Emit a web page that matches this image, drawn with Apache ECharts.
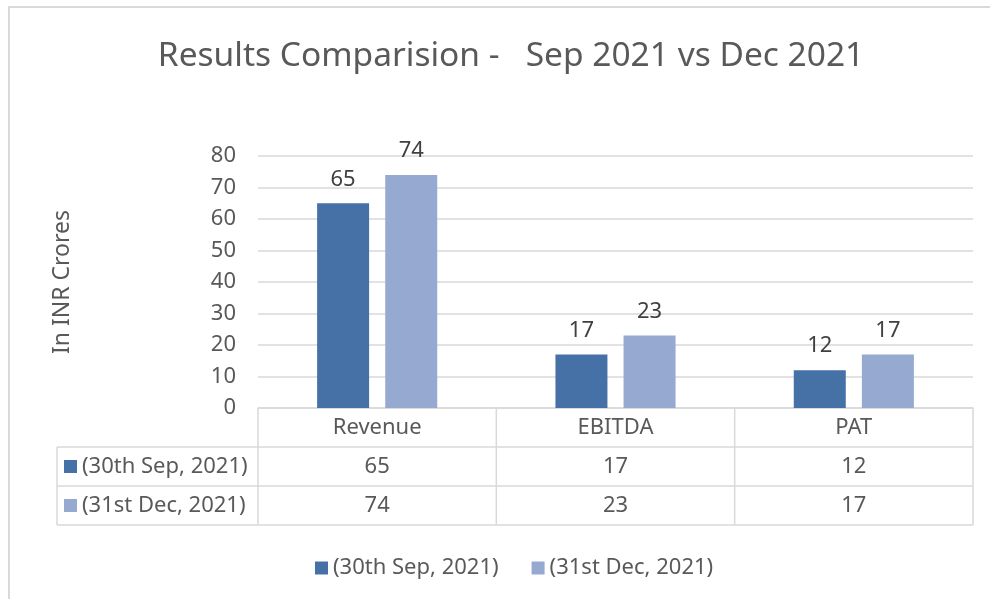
<!DOCTYPE html>
<html><head><meta charset="utf-8">
<script src="https://cdn.jsdelivr.net/npm/echarts@6/dist/echarts.min.js"></script>
<style>html,body{margin:0;padding:0;background:#fff}#c{width:990px;height:599px}</style>
</head><body><div id="c"></div>
<script>
const categories = ['Revenue', 'EBITDA', 'PAT'];
const seriesNames = ['(30th Sep, 2021)', '(31st Dec, 2021)'];
const sep2021 = [65, 17, 12];
const dec2021 = [74, 23, 17];
const yTicks = [0, 10, 20, 30, 40, 50, 60, 70, 80];

const FONT = 'Noto Sans';
const TXT = '#595959';
const LINE = '#D9D9D9';
const C1 = '#4571A7';
const C2 = '#95A9D1';

const G = {left: 258, right: 973, top: 156, bottom: 408};
const ROW = 39;
const TBL_LEFT = 57;
const FS = 22;

const chart = echarts.init(document.getElementById('c'), null, {renderer: 'canvas'});

function labelFor(value, idx) {
  return '{h|' + value + '}\n{v|' + sep2021[idx] + '}\n{v|' + dec2021[idx] + '}';
}

const graphics = [];
graphics.push({type: 'line', shape: {x1: 8, y1: 7, x2: 990, y2: 7}, style: {stroke: LINE, lineWidth: 2}, silent: true});
graphics.push({type: 'line', shape: {x1: 9, y1: 7, x2: 9, y2: 599}, style: {stroke: LINE, lineWidth: 2}, silent: true});
for (let r = 1; r <= 3; r++) {
  const y = G.bottom + r * ROW;
  graphics.push({type: 'line', shape: {x1: TBL_LEFT, y1: y, x2: G.right, y2: y}, style: {stroke: LINE, lineWidth: 1.5}, silent: true});
}
const colW = (G.right - G.left) / categories.length;
for (let c = 0; c <= categories.length; c++) {
  const x = G.left + c * colW;
  graphics.push({type: 'line', shape: {x1: x, y1: G.bottom, x2: x, y2: G.bottom + 3 * ROW}, style: {stroke: LINE, lineWidth: 1.5}, silent: true});
}
graphics.push({type: 'line', shape: {x1: TBL_LEFT, y1: G.bottom + ROW, x2: TBL_LEFT, y2: G.bottom + 3 * ROW}, style: {stroke: LINE, lineWidth: 1.5}, silent: true});
[C1, C2].forEach((col, i) => {
  graphics.push({type: 'rect', shape: {x: 64, y: G.bottom + ROW * (i + 1) + 13, width: 13, height: 13}, style: {fill: col}, silent: true});
  graphics.push({type: 'text', x: 82, y: G.bottom + ROW * (i + 1) + ROW / 2,
    style: {text: seriesNames[i], fill: TXT, font: FS + 'px "' + FONT + '"', verticalAlign: 'middle', align: 'left'}, silent: true});
});

const option = {
  animation: false,
  backgroundColor: '#fff',
  textStyle: {fontFamily: FONT},
  title: {
    text: 'Results Comparision -   Sep 2021 vs Dec 2021',
    left: 506, top: 34, textAlign: 'center',
    textStyle: {fontFamily: FONT, fontSize: 33.5, fontWeight: 'normal', color: TXT}
  },
  legend: {
    data: seriesNames,
    left: 310, top: 552,
    itemWidth: 13, itemHeight: 13, itemGap: 33,
    icon: 'rect',
    textStyle: {fontFamily: FONT, fontSize: FS, color: TXT}
  },
  grid: {left: G.left, right: 990 - G.right, top: G.top, bottom: 599 - G.bottom, containLabel: false},
  xAxis: {
    type: 'category',
    data: categories,
    axisLine: {show: true, lineStyle: {color: LINE, width: 1.5}},
    axisTick: {show: false},
    axisLabel: {
      margin: 0,
      formatter: labelFor,
      rich: {
        h: {fontFamily: FONT, fontSize: FS, color: TXT, lineHeight: ROW, height: ROW},
        v: {fontFamily: FONT, fontSize: FS, color: TXT, lineHeight: ROW, height: ROW}
      }
    }
  },
  yAxis: {
    type: 'value',
    min: yTicks[0], max: yTicks[yTicks.length - 1], interval: 10,
    name: 'In INR Crores',
    nameLocation: 'middle', nameRotate: 90, nameGap: 184,
    nameTextStyle: {fontFamily: FONT, fontSize: 23, color: TXT},
    axisLine: {show: false},
    axisTick: {show: false},
    axisLabel: {fontFamily: FONT, fontSize: 22, color: TXT, margin: 22},
    splitLine: {lineStyle: {color: LINE, width: 1.5}}
  },
  series: [
    {name: seriesNames[0], type: 'bar', data: sep2021, barWidth: 52, barGap: '31%',
     itemStyle: {color: C1},
     label: {show: true, position: 'top', distance: 13, fontFamily: FONT, fontSize: 22, color: '#404040'}},
    {name: seriesNames[1], type: 'bar', data: dec2021, barWidth: 52,
     itemStyle: {color: C2},
     label: {show: true, position: 'top', distance: 13, fontFamily: FONT, fontSize: 22, color: '#404040'}}
  ],
  graphic: graphics
};
chart.setOption(option);
</script>
</body></html>
